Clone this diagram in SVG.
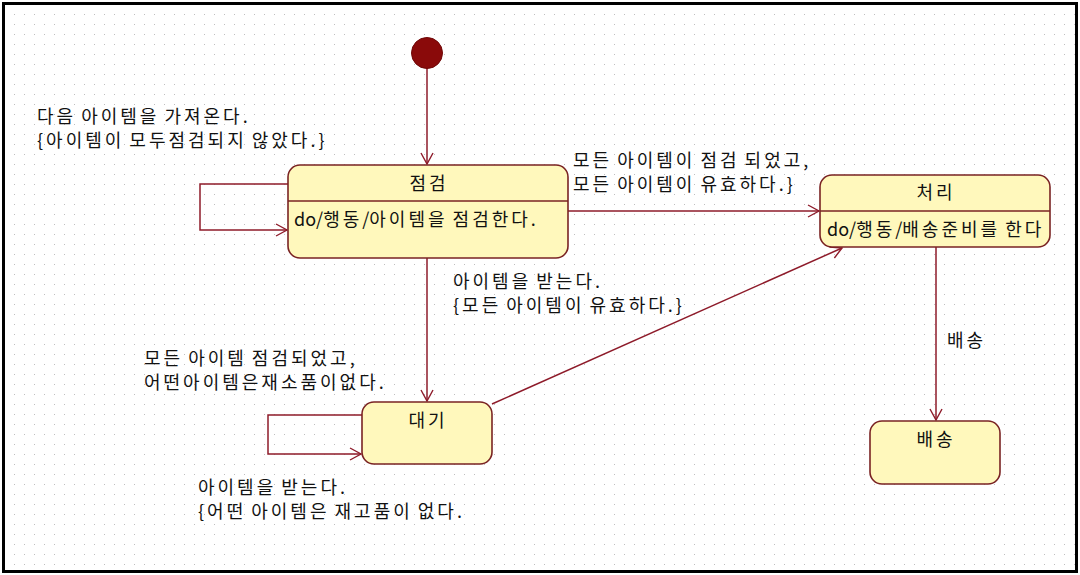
<svg xmlns="http://www.w3.org/2000/svg" width="1080" height="575" viewBox="0 0 1080 575">
<style>
  text { font-family: "Noto Sans CJK KR", "Noto Sans", sans-serif; font-size: 18px; fill: #111; letter-spacing: 3px; word-spacing: -2px; }
  .mid { text-anchor: middle; }
  .lat { letter-spacing: 0px; }
  .state { fill: #FFF8BC; stroke: #7A2323; stroke-width: 1.6; }
  .div { stroke: #7A2323; stroke-width: 1.4; }
  .conn { fill: none; stroke: #8E1B2A; stroke-width: 1.5; }
</style>
<defs>
  <pattern id="grid" width="10" height="10" patternUnits="userSpaceOnUse">
    <rect x="4" y="4" width="1" height="1" fill="#BEBEBE"/>
  </pattern>
  <marker id="arr" markerUnits="userSpaceOnUse" markerWidth="14" markerHeight="14" viewBox="-12 -7 14 14" refX="0" refY="0" orient="auto">
    <path d="M-11,-6 L0,0 L-11,6" fill="none" stroke="#8E1B2A" stroke-width="1.4"/>
  </marker>
</defs>
<rect x="0" y="0" width="1080" height="575" fill="#FFFFFF"/>
<rect x="4" y="4" width="1072" height="567" fill="url(#grid)"/>
<rect x="3.5" y="3.5" width="1073" height="568" fill="none" stroke="#000" stroke-width="3"/>

<g id="connectors">
  <path class="conn" d="M427,68 V164" marker-end="url(#arr)"/>
  <path class="conn" d="M288,184 H200 V230 H287" marker-end="url(#arr)"/>
  <path class="conn" d="M568,211 H819" marker-end="url(#arr)"/>
  <path class="conn" d="M427,258 V401" marker-end="url(#arr)"/>
  <path class="conn" d="M362,415 H268 V454 H361" marker-end="url(#arr)"/>
  <path class="conn" d="M492,404 L842,248" marker-end="url(#arr)"/>
  <path class="conn" d="M936,247 V420" marker-end="url(#arr)"/>
</g>

<g id="labels">
  <text x="37" y="123">다음 아이템을 가져온다.</text>
  <text x="37" y="147">{아이템이 모두점검되지 않았다.}</text>
  <text x="573" y="167">모든 아이템이 점검 되었고,</text>
  <text x="573" y="191">모든 아이템이 유효하다.}</text>
  <text x="453" y="288">아이템을 받는다.</text>
  <text x="453" y="312">{모든 아이템이 유효하다.}</text>
  <text x="144" y="365">모든 아이템 점검되었고,</text>
  <text x="144" y="389">어떤아이템은재소품이없다.</text>
  <text x="198" y="494">아이템을 받는다.</text>
  <text x="198" y="518">{어떤 아이템은 재고품이 없다.</text>
  <text x="947" y="347">배송</text>
</g>

<g id="initial">
  <circle cx="427" cy="53" r="15.5" fill="#8A0A0A" stroke="#700808" stroke-width="1"/>
</g>

<g id="state-inspect">
  <rect class="state" x="288" y="165" width="280" height="93" rx="12"/>
  <line class="div" x1="288" y1="201" x2="568" y2="201"/>
  <text class="mid" x="429" y="190">점검</text>
  <text x="294" y="226"><tspan class="lat">do/</tspan>행동<tspan class="lat">/</tspan>아이템을 점검한다.</text>
</g>

<g id="state-process">
  <rect class="state" x="820" y="175" width="230" height="72" rx="12"/>
  <line class="div" x1="820" y1="211" x2="1050" y2="211"/>
  <text class="mid" x="936" y="199">처리</text>
  <text x="827" y="236"><tspan class="lat">do/</tspan>행동<tspan class="lat">/</tspan>배송준비를 한다</text>
</g>

<g id="state-wait">
  <rect class="state" x="362" y="402" width="130" height="62" rx="12"/>
  <text class="mid" x="428" y="427">대기</text>
</g>

<g id="state-ship">
  <rect class="state" x="870" y="421" width="130" height="63" rx="12"/>
  <text class="mid" x="936" y="446">배송</text>
</g>
</svg>
